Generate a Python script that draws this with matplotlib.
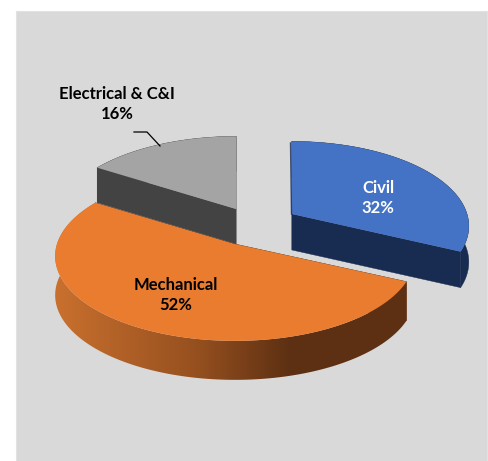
import numpy as np
import matplotlib
matplotlib.use('Agg')
import matplotlib.pyplot as plt
from matplotlib.colors import LinearSegmentedColormap
from matplotlib.patches import Polygon, Rectangle

labels = ['Civil', 'Mechanical', 'Electrical & C&I']
values = [32, 52, 16]
top_colors = ['#4472c4', '#ea7c30', '#a4a4a4']
side_colors = ['#182b50', '#5e3013', '#434343']

# pixel position of each slice tip (the slices are pulled apart)
apex_x = [292, 235, 236]
apex_y = [214, 244, 209]
depth = [36, 39, 35]
radius_x = [175, 178, 177]

radius_y = 83
persp = 0.143

plt.rcParams['font.family'] = ['Lato', 'DejaVu Sans']

fig = plt.figure(figsize=(4.89, 4.61), dpi=100)
ax = fig.add_axes([0, 0, 1, 1])
ax.set_xlim(0, 489)
ax.set_ylim(461, 0)
ax.axis('off')

ax.add_patch(Rectangle((16, 11), 471, 450, facecolor='#d9d9d9', edgecolor='#e2e2e2', lw=0.8))


# angle clockwise from 12 o'clock -> pixel offset, near side drawn a bit bigger
def project(theta, rx):
    u = np.sin(theta)
    v = -np.cos(theta)
    s = 1 / (1 - persp * v)
    return rx * u * s, radius_y * v * s


# start and end angle of each slice
ends = np.cumsum(values) / np.sum(values) * 2 * np.pi
starts = np.concatenate([[0], ends[:-1]])

arcs = {}
for i in range(len(values)):
    t = np.linspace(starts[i], ends[i], 200)
    dx, dy = project(t, radius_x[i])
    arcs[i] = (apex_x[i] + dx, apex_y[i] + dy)


def draw_slice(i):
    x, y = arcs[i]
    d = depth[i]
    # outer rim
    rim = np.column_stack([np.r_[x, x[::-1]], np.r_[y, y[::-1] + d]])
    rim_patch = Polygon(rim, closed=True, facecolor=side_colors[i], edgecolor=side_colors[i], lw=0.3, zorder=2 + i)
    ax.add_patch(rim_patch)
    if labels[i] == 'Mechanical':
        # rim of the big slice goes light to dark from left to right
        cmap = LinearSegmentedColormap.from_list('rim', [(0, '#c9702e'), (0.4, '#96501f'),
                                                         (0.66, '#5f3113'), (1, '#5e3013')])
        rim_patch.set_facecolor('none')
        rim_patch.set_edgecolor('none')
        im = ax.imshow(np.linspace(0, 1, 256).reshape(1, -1), cmap=cmap, aspect='auto',
                       extent=(x.min(), x.max(), 461, 0), zorder=2 + i)
        im.set_clip_path(rim_patch)
        ax.set_xlim(0, 489)
        ax.set_ylim(461, 0)
    # cut faces along both straight edges
    for k in (0, -1):
        wall = [(apex_x[i], apex_y[i]), (x[k], y[k]), (x[k], y[k] + d), (apex_x[i], apex_y[i] + d)]
        ax.add_patch(Polygon(wall, closed=True, facecolor=side_colors[i], edgecolor=side_colors[i],
                             lw=0.3, zorder=2 + i))
    # top face
    top = np.column_stack([np.r_[apex_x[i], x], np.r_[apex_y[i], y]])
    ax.add_patch(Polygon(top, closed=True, facecolor=top_colors[i], edgecolor='none', zorder=2 + i))


# back slices first, the orange one overlaps the grey wall
for i in [2, 0, 1]:
    draw_slice(i)

# thin dark sliver on the left edge of the blue slice
ax.plot([290.5, 291.5], [143, 214], color=side_colors[0], lw=1.0, alpha=0.8, zorder=3)

# data labels
label_x = [378, 176, 117]
label_y = [198, 295, 104]
label_colors = ['white', 'black', 'black']
for i in range(len(values)):
    ax.text(label_x[i], label_y[i], f'{labels[i]}\n{values[i]}%', color=label_colors[i], ha='center',
            va='center', fontsize=12, fontweight='bold', linespacing=1.38, zorder=10)

# leader line of the grey slice
ax.plot([134, 147, 160], [132, 132, 146], color='black', lw=0.9, zorder=10)

fig.savefig('out.png', dpi=100)
